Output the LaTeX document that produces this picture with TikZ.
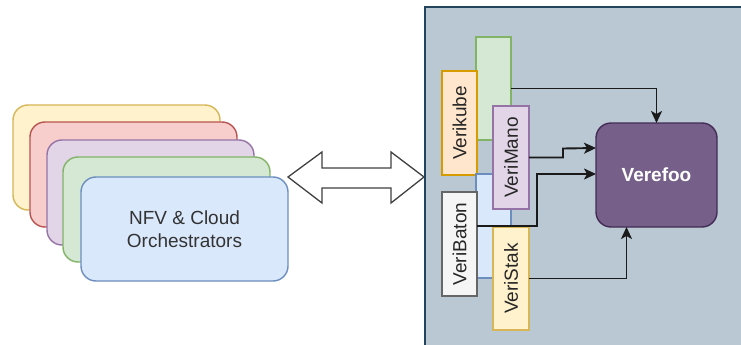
\documentclass[tikz,border=0pt]{standalone}
\usepackage{fontspec}
\setmainfont{Liberation Sans}
\usetikzlibrary{arrows.meta,calc}
\definecolor{yelF}{HTML}{FFF2CC}\definecolor{yelD}{HTML}{D6B656}
\definecolor{redF}{HTML}{F8CECC}\definecolor{redD}{HTML}{B85450}
\definecolor{purF}{HTML}{E1D5E7}\definecolor{purD}{HTML}{9673A6}
\definecolor{grnF}{HTML}{D5E8D4}\definecolor{grnD}{HTML}{82B366}
\definecolor{bluF}{HTML}{DAE8FC}\definecolor{bluD}{HTML}{6C8EBF}
\definecolor{orgF}{HTML}{FFE6CC}\definecolor{orgD}{HTML}{D79B00}
\definecolor{gryF}{HTML}{F5F5F5}\definecolor{gryD}{HTML}{666666}
\definecolor{vefF}{HTML}{76608A}\definecolor{vefD}{HTML}{432D57}
\definecolor{panF}{HTML}{BAC8D3}\definecolor{panD}{HTML}{23445D}
\definecolor{txt}{HTML}{333333}
\definecolor{lin}{HTML}{1A1A1A}
\tikzset{
  base/.style={anchor=north west, inner sep=0pt, outer sep=0pt, line width=1.4pt, font=\fontsize{19}{23}\selectfont},
  card/.style={base, rounded corners=15pt, minimum width=207pt, minimum height=105pt},
  vbox/.style={base, minimum width=35pt, minimum height=104pt},
  vlabel/.style={rotate=90, text=black!85, font=\fontsize{19}{23}\selectfont},
  conn/.style={draw=lin, line width=1.9pt, -{Stealth[length=12pt,width=11pt,inset=3pt]}},
}
\begin{document}
\begin{tikzpicture}[x=1pt,y=-1pt]
\useasboundingbox (0,0) rectangle (741,345);
\clip (0,0) rectangle (741,345);
% stacked orchestrator cards
\node[card, fill=yelF, draw=yelD] (c1) at (13,105) {};
\node[card, fill=redF, draw=redD] (c2) at (30,122) {};
\node[card, fill=purF, draw=purD] (c3) at (47,140) {};
\node[card, fill=grnF, draw=grnD] (c4) at (63,157) {};
\node[card, fill=bluF, draw=bluD, minimum height=104pt] (c5) at (81,177) {};
\node[text=txt, align=center, font=\fontsize{19}{23}\selectfont] (nfv) at (c5.center) {NFV \& Cloud\\Orchestrators};
% double arrow
\draw[draw=black!75, line width=1.3pt, fill=white, line join=miter]
  (288,177) -- (322,152) -- (322,168) -- (391,168) -- (391,152) -- (424,177)
  -- (391,203) -- (391,188) -- (322,188) -- (322,203) -- cycle;
% panel
\node[base, fill=panF, draw=panD, minimum width=340pt, minimum height=360pt] (panel) at (425,7) {};
% verifier boxes
\node[vbox, fill=grnF, draw=grnD, minimum height=103pt] (green) at (476,37) {};
\node[vbox, fill=orgF, draw=orgD] (kube) at (442,71) {};
\node[vlabel] at (kube.center) {Verikube};
\node[vbox, fill=bluF, draw=bluD] (blue) at (476,174) {};
\node[vbox, fill=gryF, draw=gryD] (baton) at (442,192) {};
\node[vlabel] at (baton.center) {VeriBaton};
\node[vbox, fill=purF, draw=purD, minimum width=36pt, minimum height=103pt] (mano) at (493,106) {};
\node[vlabel] at (mano.center) {VeriMano};
\node[vbox, fill=yelF, draw=yelD, minimum width=36pt, minimum height=103pt] (stak) at (493,227) {};
\node[vlabel] at (stak.center) {VeriStak};
% verefoo
\node[base, rounded corners=15pt, fill=vefF, draw=vefD, minimum width=121pt, minimum height=104pt] (vef) at (596,123) {};
\node[text=white, font=\fontsize{19}{23}\selectfont\bfseries] (veft) at (vef.center) {Verefoo};
% connectors
\draw[conn] (green.east) -| (vef.north);
\draw[conn] (mano.east) -- ++(34,0) -- ($(mano.east)+(34,-9)$) -- ($(vef.west)+(0,-27)$);
\coordinate (bs) at ($(baton.north east)+(0,34)$);
\draw[conn] (bs) -- ++(60,0) -- ($(bs)+(60,-52)$) -- ($(vef.west)+(0,-1)$);
\draw[conn] (stak.east) -| ($(vef.south)+(-30,0)$);
\end{tikzpicture}
\end{document}
